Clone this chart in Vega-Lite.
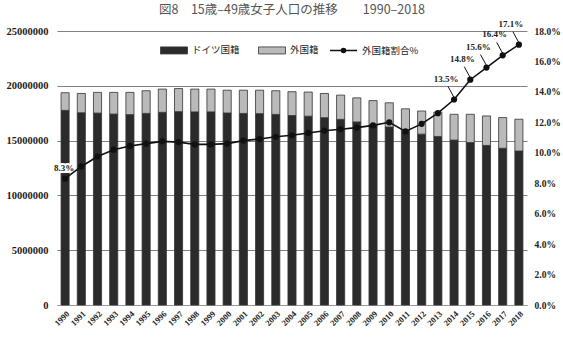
{
  "$schema": "https://vega.github.io/schema/vega-lite/v6.json",
  "width": 470,
  "height": 274,
  "autosize": {"type": "none"},
  "padding": {"left": 57, "top": 31, "right": 36, "bottom": 34},
  "background": "white",
  "title": {"text": "図8　15歳–49歳女子人口の推移　　1990–2018", "font": "Noto Sans CJK JP", "fontSize": 12.5, "fontWeight": "normal", "color": "#555", "offset": 3, "frame": "group"},
  "config": {
    "view": {"stroke": null},
    "axis": {"labelFont": "Liberation Serif", "labelFontWeight": "bold", "labelColor": "#222", "title": null}
  },
  "data": {"values": [
    {"year": "1990", "german": 17760000, "foreign": 1610000, "ratio": 8.3, "label": "8.3%"},
    {"year": "1991", "german": 17540000, "foreign": 1760000, "ratio": 9.1, "label": ""},
    {"year": "1992", "german": 17510000, "foreign": 1890000, "ratio": 9.75, "label": ""},
    {"year": "1993", "german": 17420000, "foreign": 1980000, "ratio": 10.2, "label": ""},
    {"year": "1994", "german": 17370000, "foreign": 2030000, "ratio": 10.45, "label": ""},
    {"year": "1995", "german": 17480000, "foreign": 2070000, "ratio": 10.6, "label": ""},
    {"year": "1996", "german": 17580000, "foreign": 2120000, "ratio": 10.75, "label": ""},
    {"year": "1997", "german": 17640000, "foreign": 2110000, "ratio": 10.7, "label": ""},
    {"year": "1998", "german": 17620000, "foreign": 2080000, "ratio": 10.55, "label": ""},
    {"year": "1999", "german": 17620000, "foreign": 2080000, "ratio": 10.55, "label": ""},
    {"year": "2000", "german": 17520000, "foreign": 2080000, "ratio": 10.6, "label": ""},
    {"year": "2001", "german": 17480000, "foreign": 2120000, "ratio": 10.8, "label": ""},
    {"year": "2002", "german": 17460000, "foreign": 2140000, "ratio": 10.9, "label": ""},
    {"year": "2003", "german": 17390000, "foreign": 2160000, "ratio": 11.05, "label": ""},
    {"year": "2004", "german": 17290000, "foreign": 2170000, "ratio": 11.15, "label": ""},
    {"year": "2005", "german": 17230000, "foreign": 2200000, "ratio": 11.3, "label": ""},
    {"year": "2006", "german": 17090000, "foreign": 2210000, "ratio": 11.45, "label": ""},
    {"year": "2007", "german": 16940000, "foreign": 2210000, "ratio": 11.55, "label": ""},
    {"year": "2008", "german": 16700000, "foreign": 2200000, "ratio": 11.65, "label": ""},
    {"year": "2009", "german": 16450000, "foreign": 2200000, "ratio": 11.8, "label": ""},
    {"year": "2010", "german": 16240000, "foreign": 2210000, "ratio": 12.0, "label": ""},
    {"year": "2011", "german": 15860000, "foreign": 2040000, "ratio": 11.4, "label": ""},
    {"year": "2012", "german": 15590000, "foreign": 2110000, "ratio": 11.9, "label": ""},
    {"year": "2013", "german": 15380000, "foreign": 2220000, "ratio": 12.6, "label": ""},
    {"year": "2014", "german": 15050000, "foreign": 2350000, "ratio": 13.5, "label": "13.5%"},
    {"year": "2015", "german": 14820000, "foreign": 2580000, "ratio": 14.8, "label": "14.8%"},
    {"year": "2016", "german": 14560000, "foreign": 2690000, "ratio": 15.6, "label": "15.6%"},
    {"year": "2017", "german": 14300000, "foreign": 2800000, "ratio": 16.4, "label": "16.4%"},
    {"year": "2018", "german": 14050000, "foreign": 2900000, "ratio": 17.1, "label": "17.1%"}
  ]},
  "encoding": {
    "x": {"field": "year", "type": "ordinal", "scale": {"paddingInner": 0.5, "paddingOuter": 0.25},
      "axis": {"labelAngle": -45, "labelFontSize": 8.5, "ticks": false, "domainColor": "#999", "labelPadding": 4}}
  },
  "layer": [
    {
      "transform": [{"fold": ["german", "foreign"], "as": ["series", "value"]}],
      "mark": {"type": "bar", "stroke": "#333", "strokeWidth": 0.8},
      "encoding": {
        "y": {"field": "value", "type": "quantitative", "stack": "zero",
          "scale": {"domain": [0, 25000000]},
          "axis": {"values": [0, 5000000, 10000000, 15000000, 20000000, 25000000], "format": "d", "grid": true, "gridColor": "#808080", "gridWidth": 1, "domain": false, "ticks": false, "labelPadding": 9, "labelFontSize": 10.5}},
        "fill": {"field": "series", "type": "nominal",
          "scale": {"domain": ["german", "foreign"], "range": ["#2b2b2b", "#bababa"]},
          "legend": {"orient": "none", "legendX": 103, "legendY": 5, "direction": "horizontal", "title": null,
            "labelExpr": "datum.label == 'german' ? 'ドイツ国籍' : '外国籍'",
            "symbolType": "M-1,-0.26H1V0.26H-1Z", "symbolSize": 729, "symbolStrokeColor": "#333", "symbolStrokeWidth": 0.8,
            "labelFont": "Noto Sans CJK JP", "labelFontSize": 9.5, "labelColor": "#222", "columnPadding": 16, "labelOffset": 4}},
        "order": {"field": "series", "sort": "descending"}
      }
    },
    {
      "encoding": {
        "y": {"field": "ratio", "type": "quantitative", "scale": {"domain": [0, 18]},
          "axis": {"orient": "right", "values": [0, 2, 4, 6, 8, 10, 12, 14, 16, 18], "labelExpr": "format(datum.value, '.1f') + '%'", "grid": false, "domain": false, "ticks": false, "labelPadding": 7, "labelFontSize": 9.5}}
      },
      "layer": [
        {
          "transform": [{"filter": "datum.year == '1990'"}],
          "mark": {"type": "text", "font": "Liberation Serif", "fontWeight": "bold", "fontSize": 9, "color": "white", "stroke": "white", "strokeWidth": 4, "dx": -1, "dy": -11},
          "encoding": {"text": {"field": "label"}}
        },
        {
          "mark": {"type": "line", "strokeWidth": 1.6, "point": {"filled": true, "size": 18, "color": "#111"}},
          "encoding": {
            "stroke": {"datum": "外国籍割合%", "scale": {"range": ["#111"]},
              "legend": {"orient": "none", "legendX": 272, "legendY": 5, "title": null,
                "symbolType": "M-1,0H1M-0.15,0A0.15,0.15 0 1,0 0.15,0A0.15,0.15 0 1,0 -0.15,0", "symbolSize": 729,
                "symbolStrokeWidth": 1.5, "symbolFillColor": "#111",
                "labelFont": "Noto Sans CJK JP", "labelFontSize": 9.5, "labelColor": "#222", "labelOffset": 4}}
          }
        },
        {
          "transform": [{"filter": "datum.label != '' && datum.year != '1990'"}],
          "mark": {"type": "rule", "stroke": "#111", "strokeWidth": 1, "x2Offset": -6, "y2Offset": -13, "yOffset": -2},
          "encoding": {"x2": {"field": "year"}, "y2": {"field": "ratio"}}
        },
        {
          "transform": [{"filter": "datum.label != '' && datum.year != '1990'"}],
          "mark": {"type": "text", "font": "Liberation Serif", "fontWeight": "bold", "fontSize": 9, "color": "#222", "dx": -8, "dy": -21},
          "encoding": {"text": {"field": "label"}}
        },
        {
          "transform": [{"filter": "datum.year == '1990'"}],
          "mark": {"type": "text", "font": "Liberation Serif", "fontWeight": "bold", "fontSize": 9, "color": "#222", "dx": -1, "dy": -11},
          "encoding": {"text": {"field": "label"}}
        }
      ]
    }
  ],
  "resolve": {"scale": {"y": "independent"}}
}
